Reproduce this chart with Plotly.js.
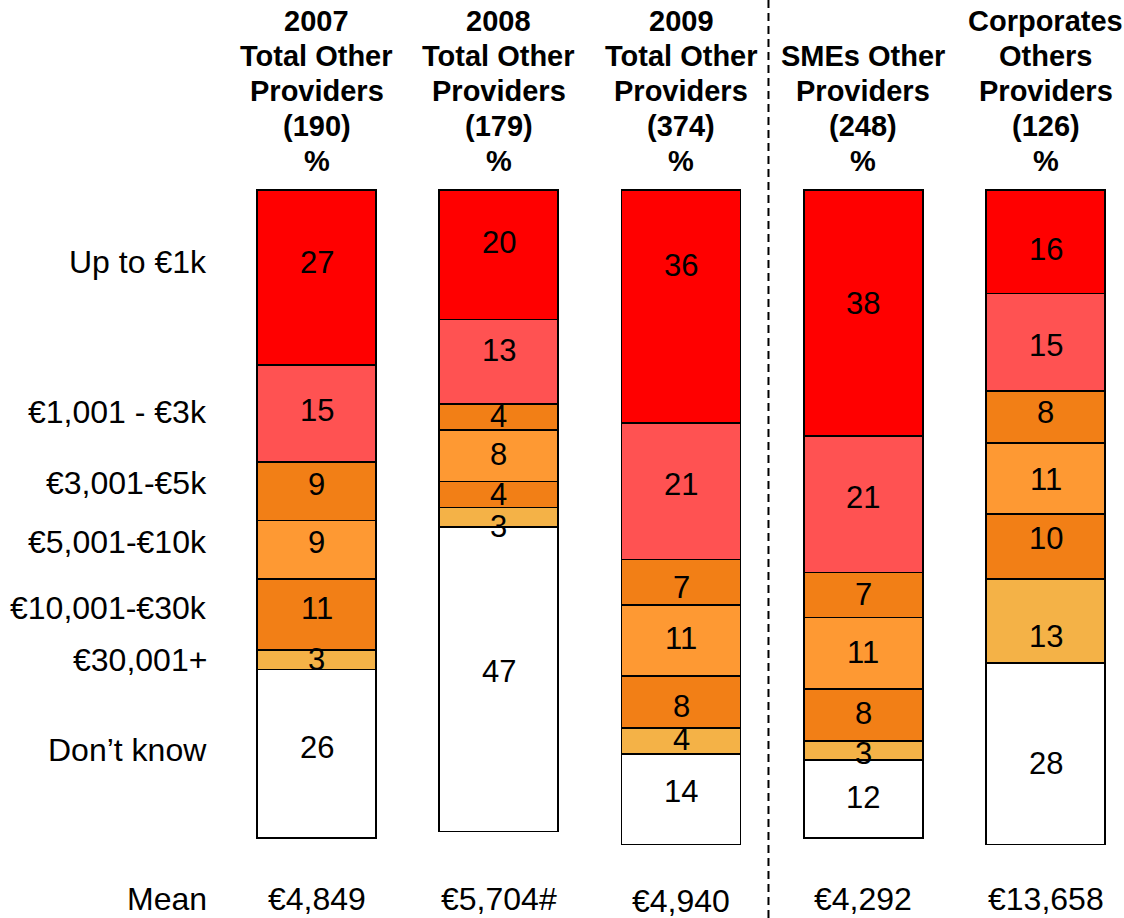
<!DOCTYPE html>
<html>
<head>
<meta charset="utf-8">
<script src="https://cdn.plot.ly/plotly-3.0.1.min.js"></script>
<style>html,body{margin:0;padding:0;background:#fff;}#chart{width:1124px;height:918px;}</style>
</head>
<body>
<div id="chart"></div>
<script>
// ---- data ----
const groups = [0, 1, 2, 3, 4];
const headers = [
  ["2007", "Total Other", "Providers", "(190)", "%"],
  ["2008", "Total Other", "Providers", "(179)", "%"],
  ["2009", "Total Other", "Providers", "(374)", "%"],
  ["SMEs Other", "Providers", "(248)", "%"],
  ["Corporates", "Others", "Providers", "(126)", "%"]
];
const bandLabels = ["Up to €1k", "€1,001 - €3k", "€3,001-€5k", "€5,001-€10k", "€10,001-€30k", "€30,001+", "Don’t know"];
const upTo1k   = [27, 20, 36, 38, 16];
const k1to3    = [15, 13, 21, 21, 15];
const k3to5    = [9, 4, 7, 7, 8];
const k5to10   = [9, 8, 11, 11, 11];
const k10to30  = [11, 4, 8, 8, 10];
const k30plus  = [3, 3, 4, 3, 13];
const dontKnow = [26, 47, 14, 12, 28];
const meanLabel = "Mean";
const means = ["€4,849", "€5,704#", "€4,940", "€4,292", "€13,658"];

// ---- styling ----
const series = [upTo1k, k1to3, k3to5, k5to10, k10to30, k30plus, dontKnow];
const colors = ["#FF0000", "#FF5252", "#F27F16", "#FE9933", "#F27F16", "#F4B247", "#FFFFFF"];
const FONT = "Liberation Sans, Arial, sans-serif";
// small vertical nudges (px) of the value labels, as laid out in the original
const labelNudge = [
  [-15, -12, -41, -10, 8],
  [-3, -11, -7, -7, 3],
  [-7, 0, 5, -1, -4],
  [-7, -1, -2, -1, 1],
  [-6, 0, 5, -1, -8],
  [0, 9, -1, 3, 16],
  [-6, -8, -8, -2, 10]
];

const traces = series.map((vals, i) => ({
  type: "bar",
  x: groups,
  y: vals,
  width: 0.653,
  name: bandLabels[i],
  marker: { color: colors[i], line: { color: "#000", width: 1.6 } },
  hoverinfo: "skip"
}));

// pixel mapping helpers (axis spans whole figure)
const PX_PER_Y = 6.48, Y0PX = 190;
const yv = px => (px - Y0PX) / PX_PER_Y;
const LABEL_X = -0.588;

const annotations = [];
// value labels at segment centres
const cum = groups.map(() => 0);
series.forEach((vals, i) => {
  vals.forEach((v, g) => {
    const mid = cum[g] + v / 2;
    cum[g] += v;
    annotations.push({
      x: groups[g], y: mid, xref: "x", yref: "y", xanchor: "center", yanchor: "middle",
      yshift: -labelNudge[i][g], text: String(v), showarrow: false,
      font: { family: FONT, size: 31, color: "#000" }
    });
  });
});
// left band labels (aligned with first column rows)
const labelRowsPx = [262, 412, 483, 542, 608, 660, 750];
bandLabels.forEach((t, i) => annotations.push({
  x: LABEL_X, y: yv(labelRowsPx[i]), xref: "x", yref: "y", xanchor: "right", yanchor: "middle",
  text: t, showarrow: false, font: { family: FONT, size: 32, color: "#000" }
}));
// headers (bottom aligned, 35px line pitch)
headers.forEach((lines, g) => {
  const n = lines.length;
  lines.forEach((t, j) => {
    const fromBottom = n - 1 - j;
    annotations.push({
      x: groups[g], y: yv(161 - 35 * fromBottom), xref: "x", yref: "y",
      xanchor: "center", yanchor: "middle", text: "<b>" + t + "</b>", showarrow: false,
      font: { family: FONT, size: 29, color: "#000" }
    });
  });
});
// mean row
annotations.push({
  x: LABEL_X, y: yv(899), xref: "x", yref: "y", xanchor: "right", yanchor: "middle",
  text: meanLabel, showarrow: false, font: { family: FONT, size: 32, color: "#000" }
});
means.forEach((m, g) => annotations.push({
  x: groups[g], y: yv(g === 2 ? 901 : 899), xref: "x", yref: "y", xanchor: "center", yanchor: "middle",
  text: m, showarrow: false, font: { family: FONT, size: 32, color: "#000" }
}));

const layout = {
  width: 1124, height: 918,
  margin: { l: 0, r: 0, t: 0, b: 0, pad: 0 },
  paper_bgcolor: "#fff", plot_bgcolor: "#fff",
  barmode: "stack",
  showlegend: false,
  hovermode: false,
  xaxis: {
    type: "linear", range: [-316.5 / 182.25, (1124 - 316.5) / 182.25],
    showgrid: false, zeroline: false, showline: false, showticklabels: false, ticks: "", fixedrange: true
  },
  yaxis: {
    type: "linear", range: [(918 - Y0PX) / PX_PER_Y, -Y0PX / PX_PER_Y],
    showgrid: false, zeroline: false, showline: false, showticklabels: false, ticks: "", fixedrange: true
  },
  shapes: [{
    type: "line", xref: "x", yref: "paper", x0: 2.48, x1: 2.48, y0: 0, y1: 1,
    line: { color: "#000", width: 2, dash: "8px,5px" }
  }],
  annotations: annotations
};

Plotly.newPlot("chart", traces, layout, { displayModeBar: false, staticPlot: true });
</script>
</body>
</html>
